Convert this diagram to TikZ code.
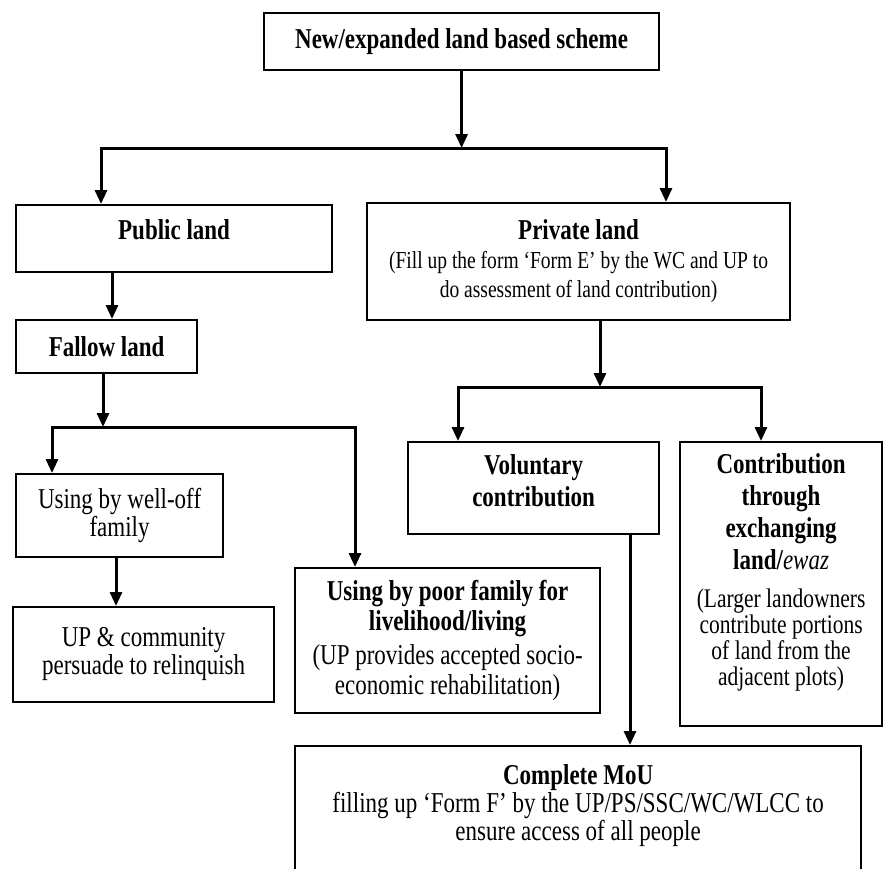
\documentclass[tikz,border=0pt]{standalone}
\usepackage{fontspec}
\setmainfont[FakeStretch=0.8]{Liberation Serif}
\usetikzlibrary{arrows.meta}
\newcommand{\mydep}[1]{\rule[-#1]{0pt}{#1}}
\begin{document}
\lineskiplimit=-100pt
\begin{tikzpicture}[x=1pt,y=-1pt,
  box/.style={draw, line width=2.2pt, inner xsep=4pt, inner ysep=0pt, anchor=north west, align=flush center},
  arr/.style={line width=3pt, line join=miter, -{Triangle[length=14pt,width=12pt]}},
  big/.style={font=\fontsize{28.75}{28}\selectfont},
]
\useasboundingbox (0,0) rectangle (884,868);
\fill[white] (0,0) rectangle (884,868);

% boxes
\node[box, big, minimum width=395pt, minimum height=57pt, text width=387pt] (top) at (263,12)
  {\bfseries New/expanded land based scheme};
\node[box, big, minimum width=316pt, minimum height=67pt, text width=308pt] (pub) at (15,204)
  {\bfseries Public land\mydep{18pt}};
\node[box, big, minimum width=423pt, minimum height=117pt, text width=415pt] (priv) at (366,202)
  {\bfseries Private land\par
   {\mdseries\fontsize{24.4}{29}\selectfont (Fill up the form ‘Form E’ by the WC and UP to\\do assessment of land contribution)\par}};
\node[box, big, minimum width=181pt, minimum height=53pt, text width=173pt] (fal) at (15,319)
  {\bfseries Fallow land};
\node[box, big, minimum width=207pt, minimum height=83pt, text width=199pt] (well) at (15,473)
  {Using by well-off\\family};
\node[box, big, minimum width=261pt, minimum height=95pt, text width=253pt] (up) at (12,606)
  {UP \& community\\persuade to relinquish\mydep{8pt}};
\node[box, minimum width=305pt, minimum height=145pt, text width=297pt] (poor) at (294,567)
  {{\bfseries\fontsize{28.75}{30}\selectfont Using by poor family for\\livelihood/living\par}
   {\fontsize{28.75}{30}\selectfont\vspace{4pt}(UP provides accepted socio-\\economic rehabilitation)\par}};
\node[box, minimum width=251pt, minimum height=92pt, text width=243pt] (vol) at (407,441)
  {{\bfseries\fontsize{28.75}{32}\selectfont Voluntary\\contribution\mydep{16pt}\par}};
\node[box, minimum width=202pt, minimum height=284pt, text width=194pt] (con) at (679,441)
  {{\bfseries\fontsize{28.75}{32}\selectfont Contribution\\through\\exchanging\\land/\textit{\mdseries ewaz}\par}
   {\fontsize{26.9}{26}\selectfont\vspace{12pt}(Larger landowners\\contribute portions\\of land from the\\adjacent plots)\mydep{30pt}\par}};
\node[box, big, minimum width=566pt, minimum height=125pt, text width=558pt] (mou) at (294,745)
  {\bfseries Complete MoU\par
   \mdseries filling up ‘Form F’ by the UP/PS/SSC/WC/WLCC to\\ensure access of all people\mydep{12pt}\par};

% junction coordinates
\coordinate (j1l) at (101,148);
\coordinate (j1r) at (666,148);
\coordinate (j1) at (top.south |- j1l);
\coordinate (xpf) at (112,0);
\coordinate (j2) at (103,427);
\coordinate (j2l) at (52,427);
\coordinate (j2r) at (355,427);
\coordinate (xwu) at (116,0);
\coordinate (j3) at (600,387);
\coordinate (j3l) at (458,387);
\coordinate (j3r) at (761,387);
\coordinate (xvm) at (630,0);

% connectors
\draw[arr] (top.south) -- (j1);
\draw[arr] (j1) -- (j1l) -- (j1l |- pub.north);
\draw[arr] (j1) -- (j1r) -- (j1r |- priv.north);
\draw[arr] (pub.south -| xpf) -- (fal.north -| xpf);
\draw[arr] (fal.south -| j2) -- (j2);
\draw[arr] (j2) -- (j2l) -- (j2l |- well.north);
\draw[arr] (j2) -- (j2r) -- (j2r |- poor.north);
\draw[arr] (well.south -| xwu) -- (up.north -| xwu);
\draw[arr] (priv.south -| j3) -- (j3);
\draw[arr] (j3) -- (j3l) -- (j3l |- vol.north);
\draw[arr] (j3) -- (j3r) -- (j3r |- con.north);
\draw[arr] (vol.south -| xvm) -- (mou.north -| xvm);
\end{tikzpicture}
\end{document}
